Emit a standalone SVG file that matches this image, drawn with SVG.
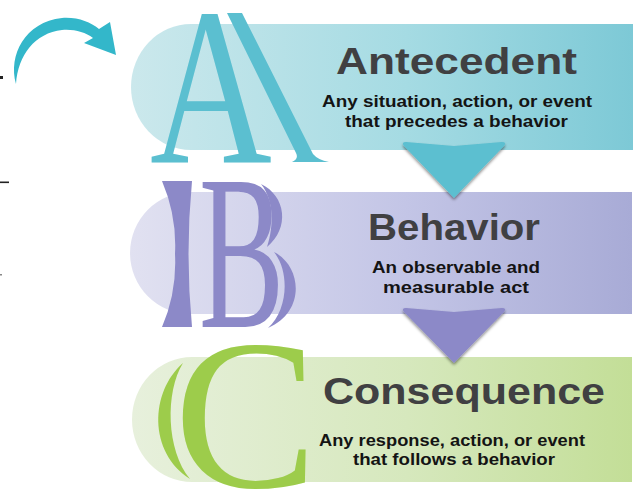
<svg xmlns="http://www.w3.org/2000/svg" width="639" height="492" viewBox="0 0 639 492">
  <defs>
    <linearGradient id="gradA" x1="0" y1="0" x2="1" y2="0">
      <stop offset="0" stop-color="#cbe8ec"/>
      <stop offset="0.55" stop-color="#a5dbe3"/>
      <stop offset="1" stop-color="#7dc9d6"/>
    </linearGradient>
    <linearGradient id="gradB" x1="0" y1="0" x2="1" y2="0">
      <stop offset="0" stop-color="#e1e1f1"/>
      <stop offset="0.55" stop-color="#c3c5e6"/>
      <stop offset="1" stop-color="#a8abd6"/>
    </linearGradient>
    <linearGradient id="gradC" x1="0" y1="0" x2="1" y2="0">
      <stop offset="0" stop-color="#e7f0dc"/>
      <stop offset="0.55" stop-color="#d6e8bd"/>
      <stop offset="1" stop-color="#c3de97"/>
    </linearGradient>
    <filter id="shadow" x="-20%" y="-20%" width="140%" height="150%">
      <feDropShadow dx="0" dy="2" stdDeviation="1.5" flood-color="#000" flood-opacity="0.45"/>
    </filter>
  </defs>
  <style>
    .title { font-family: "Liberation Sans", Arial, sans-serif; font-weight: bold; font-size: 36px; fill: #404042; text-anchor: middle; }
    .sub { font-family: "Liberation Sans", Arial, sans-serif; font-weight: bold; font-size: 17px; fill: #141414; text-anchor: middle; }
    .big { font-family: "Liberation Serif", "Times New Roman", serif; text-anchor: start; }
    .teal { fill: #5bbfd0; }
    .violet { fill: #8c89c8; }
    .green { fill: #9dcc4b; }
  </style>

  <rect width="639" height="492" fill="#ffffff"/>

  <!-- stray marks along the left edge -->
  <g id="edge-marks" fill="#222">
    <rect x="0" y="76" width="3" height="3"/>
    <rect x="0" y="181.5" width="9" height="1.6"/>
    <rect x="0" y="274" width="2" height="1.5" fill="#888"/>
  </g>

  <!-- A : Antecedent -->
  <g id="node-antecedent">
    <path d="M 191 24 L 633 24 L 633 150 L 191 150 A 60 63 0 0 1 191 24 Z" fill="url(#gradA)"/>
    <text class="big teal" font-size="225" transform="translate(150,162) scale(0.75,1)">A</text>
    <path class="teal" d="M 227 13 L 242 13 L 313 154 Q 318 160 329 162 L 292 162 Q 299 159 296 153 Z"/>
    <text class="title" x="456.5" y="74" textLength="241" lengthAdjust="spacingAndGlyphs">Antecedent</text>
    <text class="sub" x="457" y="106.5" textLength="270" lengthAdjust="spacingAndGlyphs">Any situation, action, or event</text>
    <text class="sub" x="456.5" y="126.7" textLength="223" lengthAdjust="spacingAndGlyphs">that precedes a behavior</text>
  </g>

  <!-- B : Behavior -->
  <g id="node-behavior">
    <path d="M 190 192 L 632 192 L 632 314 L 190 314 A 60 61 0 0 1 190 192 Z" fill="url(#gradB)"/>
    <path class="violet" d="M 162 181 L 192 181 Q 185 254 192 327 L 162 327 Q 177 292 175 254 Q 177 216 162 181 Z"/>
    <text class="big violet" font-size="220" transform="translate(199,327) scale(0.58,1)">B</text>
    <path class="violet" d="M 261 184 C 286 196 290 228 267 247 C 274 226 274 200 261 184 Z"/>
    <path class="violet" d="M 274 252 C 302 266 306 312 268 328 C 288 310 290 272 274 252 Z"/>
    <text class="title" x="454" y="239.5" textLength="172" lengthAdjust="spacingAndGlyphs">Behavior</text>
    <text class="sub" x="456" y="272.5" textLength="168" lengthAdjust="spacingAndGlyphs">An observable and</text>
    <text class="sub" x="456" y="293" textLength="146" lengthAdjust="spacingAndGlyphs">measurable act</text>
  </g>

  <!-- C : Consequence -->
  <g id="node-consequence">
    <path d="M 192 357 L 632 357 L 632 482 L 192 482 A 60 62.5 0 0 1 192 357 Z" fill="url(#gradC)"/>
    <path class="green" d="M 183 363 C 150 392 148 452 190 479 C 166 450 165 392 183 363 Z"/>
    <text class="big green" font-size="215" transform="translate(174,487)">C</text>
    <text class="title" x="464" y="404" textLength="282" lengthAdjust="spacingAndGlyphs">Consequence</text>
    <text class="sub" x="452" y="445.5" textLength="266" lengthAdjust="spacingAndGlyphs">Any response, action, or event</text>
    <text class="sub" x="454" y="465" textLength="202" lengthAdjust="spacingAndGlyphs">that follows a behavior</text>
  </g>

  <!-- connectors: down chevrons between steps and the curved arrow -->
  <g id="connectors">
    <path filter="url(#shadow)" fill="#5bbfd0" d="M 406 142 L 454 146 L 502 142 Q 507 142 504 146 L 454 198 L 404 146 Q 401 142 406 142 Z"/>
    <path filter="url(#shadow)" fill="#8c89c8" d="M 406 308 L 454 312 L 502 308 Q 507 308 504 312 L 454 363 L 404 312 Q 401 308 406 308 Z"/>
    <path fill="#33b7ca" d="M 16 84 C 8 55 25 22 62 18 C 78 17 90 22 99 29 L 110 22 L 116 55 L 84 43 L 93 38 C 85 32 74 29 62 30 C 35 33 18 55 16 84 Z"/>
  </g>
</svg>
